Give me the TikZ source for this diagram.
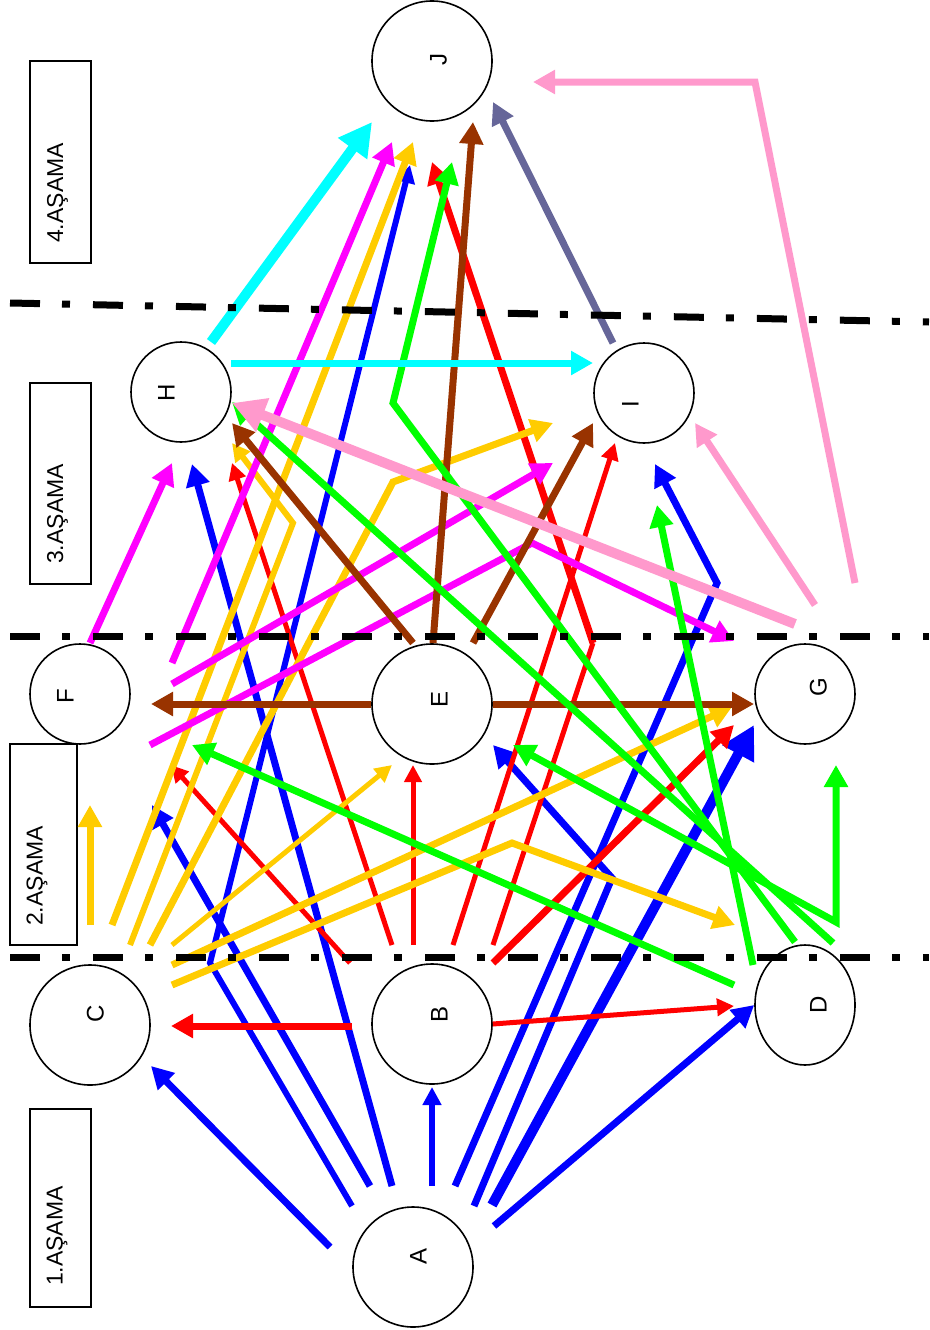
\documentclass[tikz,border=0pt]{standalone}
\usepackage{fontspec}
\setmainfont{Liberation Sans}
\usetikzlibrary{arrows.meta,shapes.geometric}
\definecolor{cB}{HTML}{0000FF}
\definecolor{cR}{HTML}{FF0000}
\definecolor{cY}{HTML}{FFCC00}
\definecolor{cM}{HTML}{FF00FF}
\definecolor{cBr}{HTML}{993300}
\definecolor{cG}{HTML}{00FF00}
\definecolor{cP}{HTML}{FF99CC}
\definecolor{cC}{HTML}{00FFFF}
\definecolor{cS}{HTML}{666699}
\begin{document}
\begin{tikzpicture}[x=1pt,y=-1pt,
  nd/.style={circle,draw,line width=1.6pt,fill=white,inner sep=0pt,minimum size=100pt},
  big/.style={minimum size=120pt},
  lbl/.style={rotate=90,inner sep=0pt,anchor=base,font=\fontsize{23}{23}\selectfont},
  let/.style={rotate=90,inner sep=0pt,anchor=base,font=\fontsize{24}{24}\selectfont},
  stagebox/.style={draw,line width=1.6pt,inner sep=0pt},
  sep/.style={line width=7pt,dash pattern=on 30pt off 22pt on 8pt off 23pt},
  ln/.style={line width=7pt,-{Triangle[length=22pt,width=23pt]}},
  lm/.style={line width=6pt,-{Triangle[length=18pt,width=18pt]}},
  lt/.style={line width=5pt,-{Triangle[length=17pt,width=17pt]}},
  lk/.style={line width=10pt,-{Triangle[length=33pt,width=34pt]}}
]
\useasboundingbox (0,0) rectangle (929,1330);

% stage boxes
\node[stagebox,minimum width=61pt,minimum height=202pt] (s4) at (60.5,162) {};
\node[stagebox,minimum width=61pt,minimum height=201pt] (s3) at (60.5,483.5) {};
\node[stagebox,minimum width=67pt,minimum height=201pt] (s2) at (43.5,844.5) {};
\node[stagebox,minimum width=61pt,minimum height=198pt] (s1) at (60.5,1208) {};
\node[lbl] (t4) at (63,193) {4.AŞAMA};
\node[lbl] (t3) at (63,514) {3.AŞAMA};
\node[lbl] (t2) at (42.7,876) {2.AŞAMA};
\node[lbl] (t1) at (62.7,1236) {1.AŞAMA};

% circles
\node[nd,big] (J) at (432,61) {};
\node[nd] (H) at (181,392) {};
\node[nd] (I) at (644,393) {};
\node[nd] (F) at (80,694) {};
\node[nd,big] (E) at (432,704) {};
\node[nd] (G) at (805,694) {};
\node[nd,big] (C) at (90,1025) {};
\node[nd,big] (B) at (432,1024) {};
\node[ellipse,draw,line width=1.6pt,fill=white,inner sep=0pt,minimum width=100pt,minimum height=120pt] (D) at (805,1005) {};
\node[nd,big] (A) at (413,1267) {};

\node[let] (lA) at (426.5,1256) {A};
\node[let] (lB) at (447.5,1014) {B};
\node[let] (lC) at (103.5,1014) {C};
\node[let] (lD) at (826.5,1005) {D};
\node[let] (lE) at (447.5,699) {E};
\node[let] (lF) at (73.5,696) {F};
\node[let] (lG) at (826.5,687) {G};
\node[let] (lH) at (174.5,393) {H};
\node[let] (lI) at (638.5,404) {I};
\node[let] (lJ) at (446.5,60) {J};

% blue (from A)
\draw[ln,cB] (330,1247) -- (151,1066);
\draw[ln,cB] (370,1186) -- (152,805);
\draw[lm,cB] (352,1206) -- (210,963) -- (410,165);
\draw[ln,cB] (392,1186) -- (192,464);
\draw[lm,cB] (432,1186) -- (432,1087);
\draw[ln,cB] (455,1186) -- (717,583) -- (655,464);
\draw[ln,cB] (474,1206) -- (612,878) -- (493,745);
\draw[lk,cB] (492,1205) -- (754,725);
\draw[ln,cB] (494,1226) -- (D.west);

% red (from B)
\draw[ln,cR] (352,1026) -- (171,1026);
\draw[lt,cR] (B.east) -- (734,1006);
\draw[lt,cR] (350,963) -- (171,765);
\draw[lt,cR] (392,945) -- (232,463);
\draw[lt,cR] (413,945) -- (413,765);
\draw[lt,cR] (453,945) -- (615,443);
\draw[line width=5pt,cR] (493,945) -- (593,643);
\draw[ln,cR] (593,643) -- (432,162);
\draw[ln,cR] (493,963) -- (734,725);

% yellow (from C)
\draw[ln,cY] (90,925) -- (90,805);
\draw[ln,cY] (112,925) -- (413,142);
\draw[lm,cY] (130,945) -- (293,523) -- (232,443);
\draw[ln,cY] (150,945) -- (393,482) -- (553,423);
\draw[lt,cY] (172,945) -- (392,765);
\draw[ln,cY] (172,965) -- (732,707);
\draw[ln,cY] (172,985) -- (512,843) -- (735,925);

% magenta (from F)
\draw[ln,cM] (90,643) -- (172,463);
\draw[ln,cM] (172,663) -- (392,142);
\draw[ln,cM] (172,684) -- (553,463);
\draw[ln,cM] (150,745) -- (532,543) -- (734,641);

% brown (from E)
\draw[ln,cBr] (E.west) -- (151,704);
\draw[ln,cBr] (E.east) -- (754,704);
\draw[ln,cBr] (413,643) -- (232,423);
\draw[ln,cBr] (433,643) -- (473,122);
\draw[ln,cBr] (473,643) -- (593,423);

% green (from D)
\draw[ln,cG] (734,985) -- (192,745);
\draw[line width=7pt,cG,{Triangle[length=22pt,width=23pt]}-{Triangle[length=22pt,width=23pt]}] (513,745) -- (836,922) -- (836,765);
\draw[ln,cG] (833,943) -- (232,402);
\draw[ln,cG] (795,942) -- (393,403) -- (452,162);
\draw[ln,cG] (753,965) -- (657,505);

% pink (from G)
\draw[lk,cP] (795,624) -- (232,403);
\draw[ln,cP] (815,605) -- (695,423);
\draw[ln,cP] (855,583) -- (755,82) -- (533,82);

% cyan (from H)
\draw[lk,cC] (211,342) -- (372,122);
\draw[ln,cC] (231,363) -- (593,363);

% slate (from I)
\draw[ln,cS] (613,343) -- (493,102);

% stage separators
\coordinate (p1a) at (10,303); \coordinate (p1b) at (929,322);
\coordinate (p2a) at (10,636); \coordinate (p2b) at (929,636);
\coordinate (p3a) at (10,957); \coordinate (p3b) at (929,957);
\draw[sep] (p1a) -- (p1b);
\draw[sep] (p2a) -- (p2b);
\draw[sep] (p3a) -- (p3b);
\end{tikzpicture}
\end{document}
